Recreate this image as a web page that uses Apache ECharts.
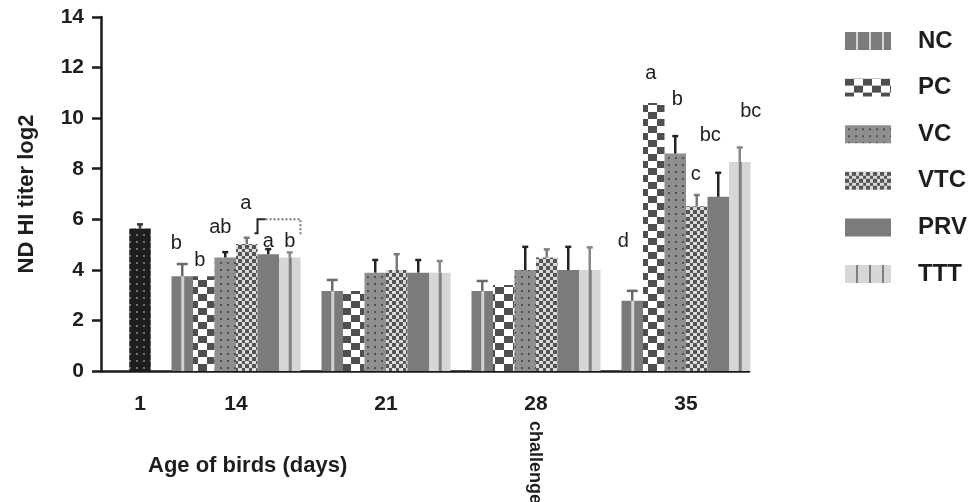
<!DOCTYPE html>
<html><head><meta charset="utf-8">
<script src="https://cdn.jsdelivr.net/npm/echarts@6/dist/echarts.min.js"></script>
<style>html,body{margin:0;padding:0;background:#fff}#c{width:970px;height:502px}</style>
</head><body><div id="c"></div>
<script>
// ---------- data ----------
const days = ['1', '14', '21', '28', '35'];
const treatments = ['NC', 'PC', 'VC', 'VTC', 'PRV', 'TTT'];
const day1Mean = [5.64];
const day1Upper = [5.80];
// values for days 14, 21, 28, 35
const ncMean = [3.75, 3.16, 3.16, 2.78];
const ncUpper = [4.23, 3.60, 3.56, 3.17];
const pcMean = [3.75, 3.16, 3.40, 10.6];
const pcUpper = [null, null, null, null];
const vcMean = [4.49, 3.89, 3.99, 8.60];
const vcUpper = [4.70, 4.39, 4.91, 9.29];
const vtcMean = [5.02, 3.99, 4.49, 6.52];
const vtcUpper = [5.27, 4.62, 4.81, 6.96];
const prvMean = [4.62, 3.89, 3.99, 6.89];
const prvUpper = [4.82, 4.39, 4.91, 7.84];
const tttMean = [4.49, 3.89, 3.99, 8.27];
const tttUpper = [4.69, 4.35, 4.89, 8.84];
// significance letters (days 14, 21, 28, 35)
const ncLetters = ['b', '', '', 'd'];
const pcLetters = ['b', '', '', 'a'];
const vcLetters = ['ab', '', '', 'b'];
const vtcLetters = ['a', '', '', 'c'];
const prvLetters = ['a', '', '', 'bc'];
const tttLetters = ['b', '', '', 'bc'];
// bracket over PRV–TTT at day 14: top, left foot, right foot
const bracketValues = [6.0, 5.45, 5.37];
const yTicks = [0, 2, 4, 6, 8, 10, 12, 14];

// ---------- layout (styles, not data) ----------
const SLOTS = 108;
const daySlot = [6, 22, 47, 72, 97];
const BAR_W = 21.5;
const letterOffsets = {
  NC: [[-6, -33], null, null, [-9, -59]],
  PC: [[-4, -16], null, null, [-3, -29]],
  VC: [[-5, -30], null, null, [2, -54]],
  VTC: [[-1, -41], null, null, [-1, -32]],
  PRV: [[0, -13], null, null, [-8, -61]],
  TTT: [[0, -16], null, null, [11, -50]]
};

// ---------- patterns ----------
function pattern(w, h, draw) {
  const c = document.createElement('canvas');
  c.width = w; c.height = h;
  draw(c.getContext('2d'));
  return { image: c, repeat: 'repeat' };
}
const fillDay1 = pattern(7, 7, g => { g.fillStyle = '#1e1e1e'; g.fillRect(0, 0, 7, 7); g.fillStyle = '#707070'; g.fillRect(3, 3, 2, 2); });
const fillPC = pattern(18, 14, g => { g.fillStyle = '#ffffff'; g.fillRect(0, 0, 18, 14); g.fillStyle = '#4f4f4f'; g.fillRect(0, 0, 9, 7); g.fillRect(9, 7, 9, 7); });
const fillVC = pattern(7, 7, g => { g.fillStyle = '#8f8f8f'; g.fillRect(0, 0, 7, 7); g.fillStyle = '#505050'; g.fillRect(3, 3, 2, 2); });
const fillVTC = pattern(7, 7, g => { g.fillStyle = '#dadada'; g.fillRect(0, 0, 7, 7); g.fillStyle = '#555555'; g.fillRect(0, 0, 4, 4); g.fillRect(4, 4, 3, 3); });
const legendNC = pattern(13, 18, g => { g.fillStyle = '#7b7b7b'; g.fillRect(0, 0, 13, 18); g.fillStyle = '#d4d4d4'; g.fillRect(11, 0, 2, 18); });
const legendTTT = pattern(13, 18, g => { g.fillStyle = '#d6d6d6'; g.fillRect(0, 0, 13, 18); g.fillStyle = '#7e7e7e'; g.fillRect(11, 0, 2, 18); });

const styles = {
  NC: { fill: '#7b7b7b', stripe: '#d2d2d2', err: '#6a6a6a', cap: 11, legend: legendNC },
  PC: { fill: fillPC, err: '#333', cap: 6, legend: fillPC },
  VC: { fill: fillVC, err: '#222', cap: 6, legend: fillVC },
  VTC: { fill: fillVTC, err: '#7a7a7a', cap: 6, legend: fillVTC },
  PRV: { fill: '#7b7b7b', err: '#222', cap: 6, legend: '#7b7b7b' },
  TTT: { fill: '#d6d6d6', stripe: '#808080', err: '#888', cap: 6, legend: legendTTT }
};
const means = { NC: ncMean, PC: pcMean, VC: vcMean, VTC: vtcMean, PRV: prvMean, TTT: tttMean };
const uppers = { NC: ncUpper, PC: pcUpper, VC: vcUpper, VTC: vtcUpper, PRV: prvUpper, TTT: tttUpper };
const letters = { NC: ncLetters, PC: pcLetters, VC: vcLetters, VTC: vtcLetters, PRV: prvLetters, TTT: tttLetters };

const categories = Array.from({ length: SLOTS }, () => '');
days.forEach((d, i) => { categories[daySlot[i]] = d; });

function makeRender(k, n, st, lets, offs) {
  return function (params, api) {
    const slot = api.value(0), mean = api.value(1), upper = api.value(2);
    const base = api.coord([slot, 0]);
    const top = api.coord([slot, mean]);
    const cx = base[0] + (k - (n - 1) / 2) * BAR_W;
    const h = base[1] - top[1];
    const ch = [{ type: 'rect', shape: { x: cx - BAR_W / 2, y: top[1], width: BAR_W, height: h }, style: { fill: st.fill } }];
    if (st.stripe) ch.push({ type: 'rect', shape: { x: cx - 1, y: top[1], width: 3, height: h }, style: { fill: st.stripe } });
    if (upper != null && !isNaN(upper)) {
      const up = api.coord([slot, upper]);
      ch.push({ type: 'line', shape: { x1: cx, y1: top[1], x2: cx, y2: up[1] }, style: { stroke: st.err, lineWidth: 2.5 } });
      ch.push({ type: 'line', shape: { x1: cx - st.cap / 2, y1: up[1], x2: cx + st.cap / 2, y2: up[1] }, style: { stroke: st.err, lineWidth: 2.5 } });
    }
    const L = lets ? lets[params.dataIndex] : '';
    if (L) {
      const o = offs[params.dataIndex];
      ch.push({ type: 'text', x: cx + o[0], y: top[1] + o[1], style: { text: L, font: '20px "Liberation Sans", Arial, sans-serif', fill: '#1e1e1e', align: 'center', verticalAlign: 'middle' } });
    }
    return { type: 'group', children: ch };
  };
}

const series = [];
series.push({
  type: 'custom', name: 'Day 1', encode: { x: 0, y: 1 },
  data: day1Mean.map((m, i) => [daySlot[0], m, day1Upper[i]]),
  renderItem: makeRender(0, 1, { fill: fillDay1, err: '#333', cap: 6 }, null, null)
});
treatments.forEach((t, k) => {
  series.push({
    type: 'custom', name: t, encode: { x: 0, y: 1 },
    itemStyle: { color: styles[t].legend },
    data: means[t].map((m, i) => [daySlot[i + 1], m, uppers[t][i]]),
    renderItem: makeRender(k, treatments.length, styles[t], letters[t], letterOffsets[t])
  });
});
series.push({
  type: 'custom', name: 'bracket', encode: { x: 0, y: 1 },
  data: [[daySlot[1], bracketValues[0], bracketValues[1], bracketValues[2]]],
  renderItem: function (params, api) {
    const slot = api.value(0);
    const c = api.coord([slot, api.value(1)]);
    const lb = api.coord([slot, api.value(2)]);
    const rb = api.coord([slot, api.value(3)]);
    const xl = c[0] + (4 - 2.5) * BAR_W - BAR_W / 2;
    const xr = c[0] + (5 - 2.5) * BAR_W + BAR_W / 2;
    return { type: 'group', children: [
      { type: 'polyline', shape: { points: [[xl - 3, lb[1]], [xl, lb[1]], [xl, c[1]], [xl + 8, c[1]]] }, style: { stroke: '#222', lineWidth: 2, fill: null } },
      { type: 'polyline', shape: { points: [[xl + 8, c[1]], [xr, c[1]], [xr, rb[1]]] }, style: { stroke: '#777', lineWidth: 2, lineDash: [2, 2], fill: null } }
    ] };
  }
});

const chart = echarts.init(document.getElementById('c'), null, { renderer: 'canvas' });
const FONT = '"Liberation Sans", Arial, sans-serif';
chart.setOption({
  animation: false,
  backgroundColor: '#ffffff',
  grid: { left: 101, right: 221, top: 17, bottom: 131 },
  xAxis: {
    type: 'category', data: categories, boundaryGap: true,
    axisLine: { lineStyle: { color: '#1a1a1a', width: 2.5 } },
    axisTick: { alignWithLabel: true, length: 9, lineStyle: { color: '#1a1a1a', width: 2.5 }, interval: (i, v) => v !== '' },
    axisLabel: { interval: (i, v) => v !== '', margin: 23, color: '#1e1e1e', fontFamily: FONT, fontWeight: 'bold', fontSize: 21 },
    splitLine: { show: false }
  },
  yAxis: {
    type: 'value', min: yTicks[0], max: yTicks[yTicks.length - 1], interval: yTicks[1] - yTicks[0],
    name: 'ND HI titer log2', nameLocation: 'middle', nameGap: 63,
    nameTextStyle: { color: '#1e1e1e', fontFamily: FONT, fontWeight: 'bold', fontSize: 22 },
    axisLine: { show: true, lineStyle: { color: '#1a1a1a', width: 2.5 } },
    axisTick: { show: true, length: 9, lineStyle: { color: '#1a1a1a', width: 2.5 } },
    axisLabel: { margin: 17, color: '#1e1e1e', fontFamily: FONT, fontWeight: 'bold', fontSize: 21 },
    splitLine: { show: false }
  },
  legend: {
    orient: 'vertical', left: 845, top: 29, padding: 0, selectedMode: false,
    icon: 'rect', itemWidth: 46, itemHeight: 18, itemGap: 22.6,
    textStyle: { color: '#1e1e1e', fontFamily: FONT, fontWeight: 'bold', fontSize: 24, padding: [0, 0, 0, 22] },
    data: treatments.map(t => ({ name: t, itemStyle: { color: styles[t].legend } }))
  },
  graphic: [
    { type: 'text', left: 148, top: 455, style: { text: 'Age of birds (days)', font: 'bold 22px ' + FONT, fill: '#1e1e1e' } },
    { type: 'text', x: 535, y: 421, rotation: -Math.PI / 2, style: { text: 'challenge', font: 'bold 18px ' + FONT, fill: '#1e1e1e', align: 'left', verticalAlign: 'middle' } }
  ],
  series: series
});
</script></body></html>
